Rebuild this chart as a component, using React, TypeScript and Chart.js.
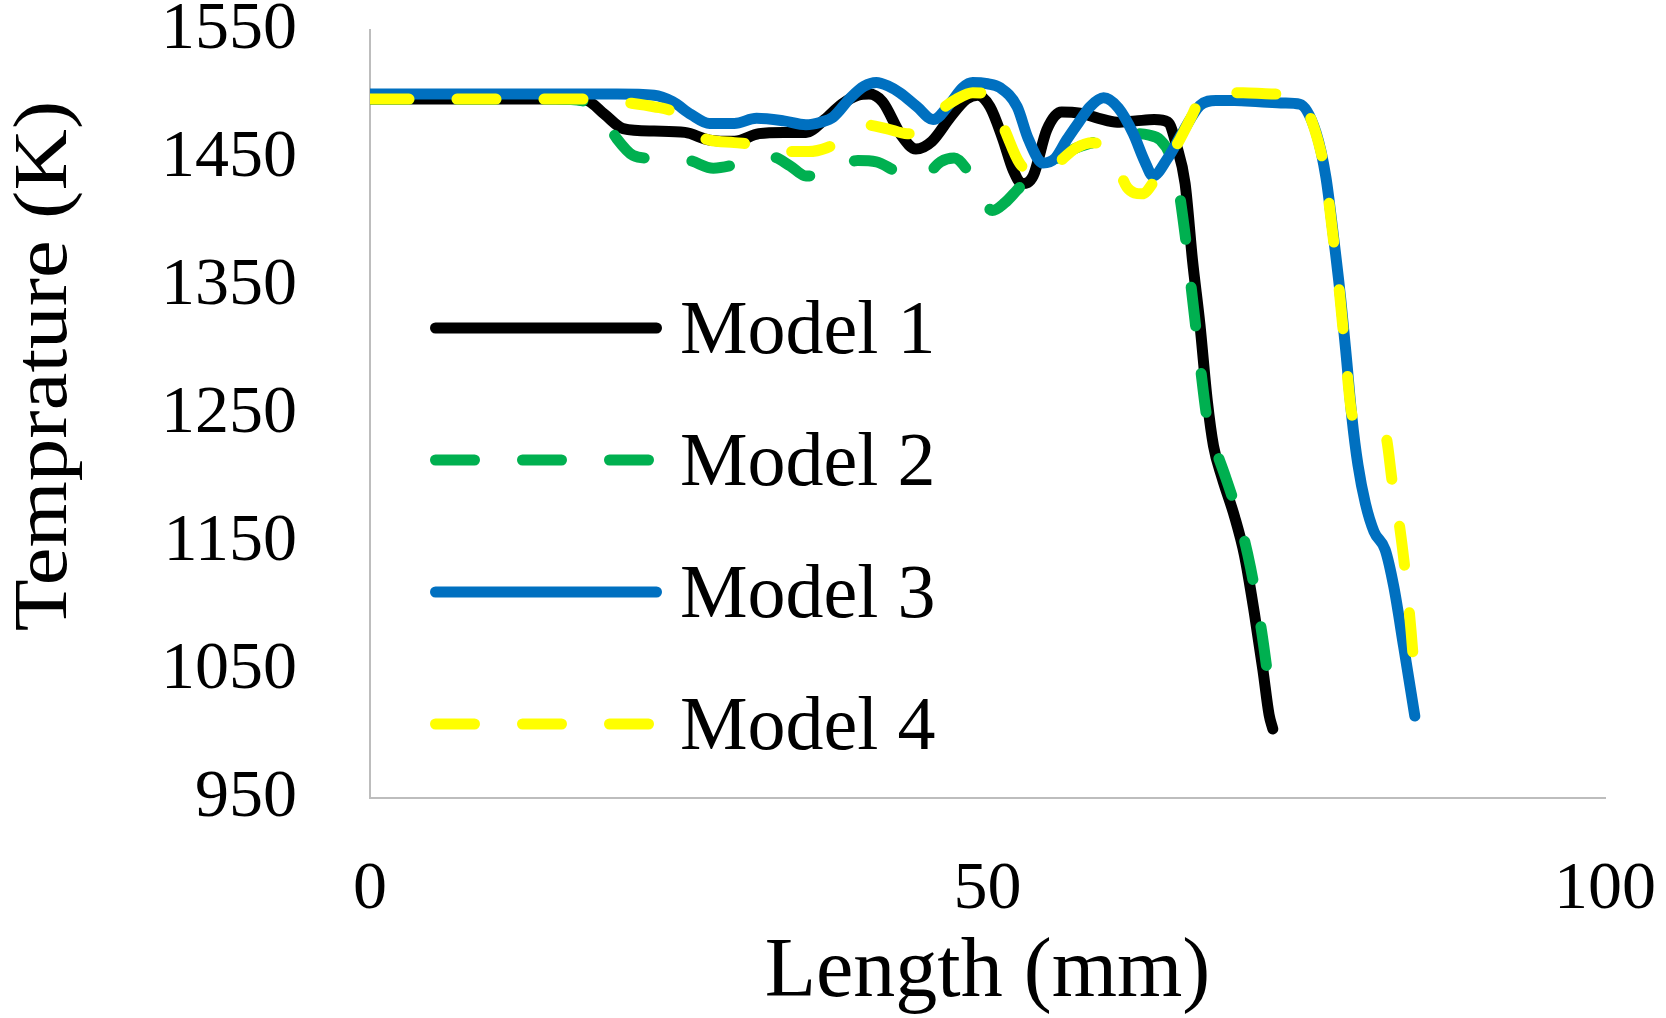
import React, { useEffect, useRef } from 'react';
import Chart from 'chart.js/auto';

// axis ticks
const lengthTicks = [0, 50, 100];
const tempTicks = [950, 1050, 1150, 1250, 1350, 1450, 1550];

const seriesNames = ['Model 1', 'Model 2', 'Model 3', 'Model 4'];

// Model 1 (solid black)
const m1Len = [0, 5, 10, 15, 17.5, 19, 20.5, 23, 25.5, 27.5, 29.5, 31.5, 33.5, 35.3, 36.8, 38.2, 39.5, 40.4, 41.5, 43,
  44.2, 45.5, 47, 48.3, 49.2, 50.2, 51.2, 52.1, 52.8, 53.7, 54.8, 56, 57.5, 59, 60.5, 62, 63.5, 64.6, 65.3, 66.0,
  66.6, 67.2, 67.8, 68.3, 69.0, 70.0, 70.8, 71.6, 72.3, 72.8, 73.1];
const m1Temp = [1496, 1496, 1496, 1496, 1495, 1484, 1473, 1471, 1470, 1464, 1463, 1469, 1470, 1470, 1480, 1492, 1499, 1500, 1494, 1468,
  1457, 1463, 1482, 1496, 1499, 1490, 1466, 1440, 1430, 1436, 1472, 1486, 1485, 1481, 1478, 1479, 1480, 1478, 1460, 1430,
  1370, 1320, 1260, 1225, 1200, 1170, 1140, 1095, 1050, 1015, 1004];

// Model 2 (dashed green)
const m2Len = [0, 5, 10, 15, 17.5, 19, 20, 21.3, 22.5, 24, 25.9, 27.8, 29.2, 30.8, 32.5, 34, 35.3, 36.5, 38, 39.5,
  41, 42.5, 44, 45, 46.2, 47.3, 48.4, 49.4, 50.4, 51.4, 52.4, 53.5, 54.5, 55.5, 57, 58.5, 60, 61.8, 63, 64,
  64.8, 65.4, 66, 66.6, 67.2, 67.8, 68.5, 69.3, 70.3, 71.3, 72.2, 73.0];
const m2Temp = [1496, 1496, 1496, 1496, 1494, 1480, 1465, 1452, 1450, 1450, 1448, 1442, 1444, 1449, 1451, 1444, 1436, 1436, 1443, 1448,
  1447, 1440, 1434, 1436, 1447, 1450, 1440, 1422, 1409, 1415, 1425, 1436, 1443, 1449, 1457, 1462, 1466, 1469, 1468, 1464,
  1452, 1430, 1390, 1340, 1290, 1245, 1222, 1200, 1170, 1130, 1080, 1023];

// Model 3 (solid blue)
const m3Len = [0, 5, 10, 15, 20, 23, 24.5, 26, 27.5, 29.5, 31.3, 33.5, 35.3, 36.5, 37.5, 38.9, 40, 41, 42, 42.9,
  44.3, 45.6, 47, 48, 48.8, 50, 51, 52.4, 53.3, 54.5, 55.5, 56.4, 57.4, 58.3, 59.4, 60.6, 61.8, 62.7, 63.4, 64.6,
  65.8, 67.2, 68.5, 70, 72, 74, 75.3, 76.6, 77.4, 78, 78.6, 79.1, 79.5, 80, 80.6, 81.3, 82.2, 82.9, 83.7, 84.6];
const m3Temp = [1500, 1500, 1500, 1500, 1500, 1499, 1494, 1484, 1477, 1477, 1481, 1479, 1476, 1478, 1482, 1497, 1506, 1509, 1506, 1501,
  1490, 1480, 1493, 1505, 1509, 1508, 1505, 1490, 1465, 1446, 1450, 1464, 1478, 1490, 1497, 1489, 1469, 1448, 1436, 1450,
  1470, 1491, 1495, 1495, 1494, 1493, 1492, 1470, 1435, 1390, 1340, 1290, 1248, 1210, 1180, 1158, 1144, 1115, 1068, 1014];

// Model 4 (dashed yellow)
const m4Len = [0, 5, 10, 15, 17.6, 19, 21, 23, 24.5, 26, 27.5, 29.5, 31.5, 33.5, 35.5, 37, 38.5, 40, 41.8, 43.5,
  45, 46.2, 47.5, 48.8, 50, 51.3, 52.6, 54, 55.3, 57.2, 58.5, 59.7, 60.5, 61.3, 62.5, 63.7, 64.7, 65.6, 66.5, 67.2,
  69, 70.7, 73, 74.5, 75.6, 76.5, 77.3, 77.9, 78.5, 79.0, 79.5, 80.2, 81.2, 82.2, 82.8, 83.4, 83.9, 84.3, 84.6, 84.8];
const m4Temp = [1496, 1496, 1496, 1496, 1496, 1495, 1493, 1490, 1486, 1470, 1464, 1462, 1460, 1455, 1455, 1458, 1466, 1476, 1473, 1469,
  1472, 1487, 1496, 1501, 1500, 1474, 1446, 1437, 1443, 1458, 1462, 1456, 1444, 1427, 1422, 1435, 1450, 1465, 1482, 1495,
  1500, 1501, 1500, 1500, 1492, 1472, 1440, 1395, 1345, 1295, 1250, 1240, 1238, 1234, 1195, 1160, 1120, 1080, 1045, 1027];

const serif = '"Liberation Serif", "Times New Roman", serif';
const lineW = 11;
const dash = [39, 48];

const toPoints = (xs: number[], ys: number[]) => xs.map((x, i) => ({ x, y: ys[i] }));

// legend drawn inside the plot, like the original
const insideLegend = {
  id: 'insideLegend',
  afterDatasetsDraw(chart: any) {
    const { ctx } = chart;
    chart.data.datasets.forEach((ds: any, i: number) => {
      const y = 328 + i * 132;
      ctx.save();
      ctx.strokeStyle = ds.borderColor;
      ctx.lineWidth = lineW;
      ctx.lineCap = 'round';
      ctx.setLineDash(ds.borderDash || []);
      ctx.beginPath();
      ctx.moveTo(435.5, y);
      ctx.lineTo(656.5, y);
      ctx.stroke();
      ctx.setLineDash([]);
      ctx.fillStyle = '#000';
      ctx.font = `76px ${serif}`;
      ctx.textBaseline = 'middle';
      ctx.fillText(ds.label, 680, y + 5);
      ctx.restore();
    });
  },
};

// y title sits a bit above the middle of the axis in the original
const yTitle = {
  id: 'yTitle',
  afterDraw(chart: any) {
    const { ctx } = chart;
    ctx.save();
    ctx.translate(46, 366);
    ctx.rotate(-Math.PI / 2);
    ctx.scale(1.12, 1);
    ctx.fillStyle = '#000';
    ctx.font = `76px ${serif}`;
    ctx.textAlign = 'center';
    ctx.textBaseline = 'middle';
    ctx.fillText('Temprature (K)', 0, 0);
    ctx.restore();
  },
};

const TempChart: React.FC = () => {
  const canvasRef = useRef<HTMLCanvasElement | null>(null);
  const chartRef = useRef<Chart | null>(null);

  useEffect(() => {
    if (!canvasRef.current) return;
    const ctx = canvasRef.current.getContext('2d');
    if (!ctx) return;

    const styles = [
      { color: '#000000', dashed: false },
      { color: '#00B050', dashed: true },
      { color: '#0070C0', dashed: false },
      { color: '#FFFF00', dashed: true },
    ];
    const series = [
      toPoints(m1Len, m1Temp),
      toPoints(m2Len, m2Temp),
      toPoints(m3Len, m3Temp),
      toPoints(m4Len, m4Temp),
    ];

    chartRef.current = new Chart(ctx, {
      type: 'line',
      data: {
        datasets: series.map((pts, i) => ({
          label: seriesNames[i],
          data: pts,
          borderColor: styles[i].color,
          backgroundColor: styles[i].color,
          borderWidth: lineW,
          borderDash: styles[i].dashed ? dash : [],
          borderCapStyle: 'round',
          borderJoinStyle: 'round',
          pointRadius: 0,
          fill: false,
          cubicInterpolationMode: 'monotone',
          order: 4 - i, // later models on top
        })),
      },
      options: {
        responsive: false,
        animation: false,
        devicePixelRatio: 1,
        layout: { padding: { top: 30, right: 61, left: 0, bottom: 0 } },
        plugins: {
          legend: { display: false },
          tooltip: { enabled: false },
        },
        scales: {
          x: {
            type: 'linear',
            min: 0,
            max: 100,
            afterBuildTicks: (scale: any) => {
              scale.ticks = lengthTicks.map((v) => ({ value: v }));
            },
            afterFit: (scale: any) => {
              scale.height = 220;
              scale.paddingLeft = 0;
              scale.paddingRight = 0;
            },
            grid: { display: false, drawTicks: false },
            border: { display: true, color: '#BDBDBD', width: 2 },
            ticks: {
              color: '#000',
              padding: 51,
              maxRotation: 0,
              font: { family: serif, size: 68 },
              callback: (v: any) => String(v),
            },
            title: {
              display: true,
              text: 'Length (mm)',
              color: '#000',
              font: { family: serif, size: 84, lineHeight: 1 },
              padding: { top: 0, bottom: 2 },
            },
          },
          y: {
            type: 'linear',
            min: 950,
            max: 1550,
            afterBuildTicks: (scale: any) => {
              scale.ticks = tempTicks.map((v) => ({ value: v }));
            },
            afterFit: (scale: any) => {
              scale.width = 370;
              scale.paddingTop = 0;
              scale.paddingBottom = 0;
            },
            grid: { display: false, drawTicks: false },
            border: { display: true, color: '#BDBDBD', width: 2 },
            ticks: {
              color: '#000',
              padding: 73,
              font: { family: serif, size: 68 },
              callback: (v: any) => String(v),
            },
          },
        },
      },
      plugins: [insideLegend, yTitle],
    } as any);

    return () => {
      if (chartRef.current) {
        chartRef.current.destroy();
        chartRef.current = null;
      }
    };
  }, []);

  return (
    <div style={{ position: 'absolute', left: 0, top: 0, width: 1666, height: 1018, background: '#fff' }}>
      <canvas ref={canvasRef} width={1666} height={1018} />
    </div>
  );
};

export default function App() {
  return <TempChart />;
}
